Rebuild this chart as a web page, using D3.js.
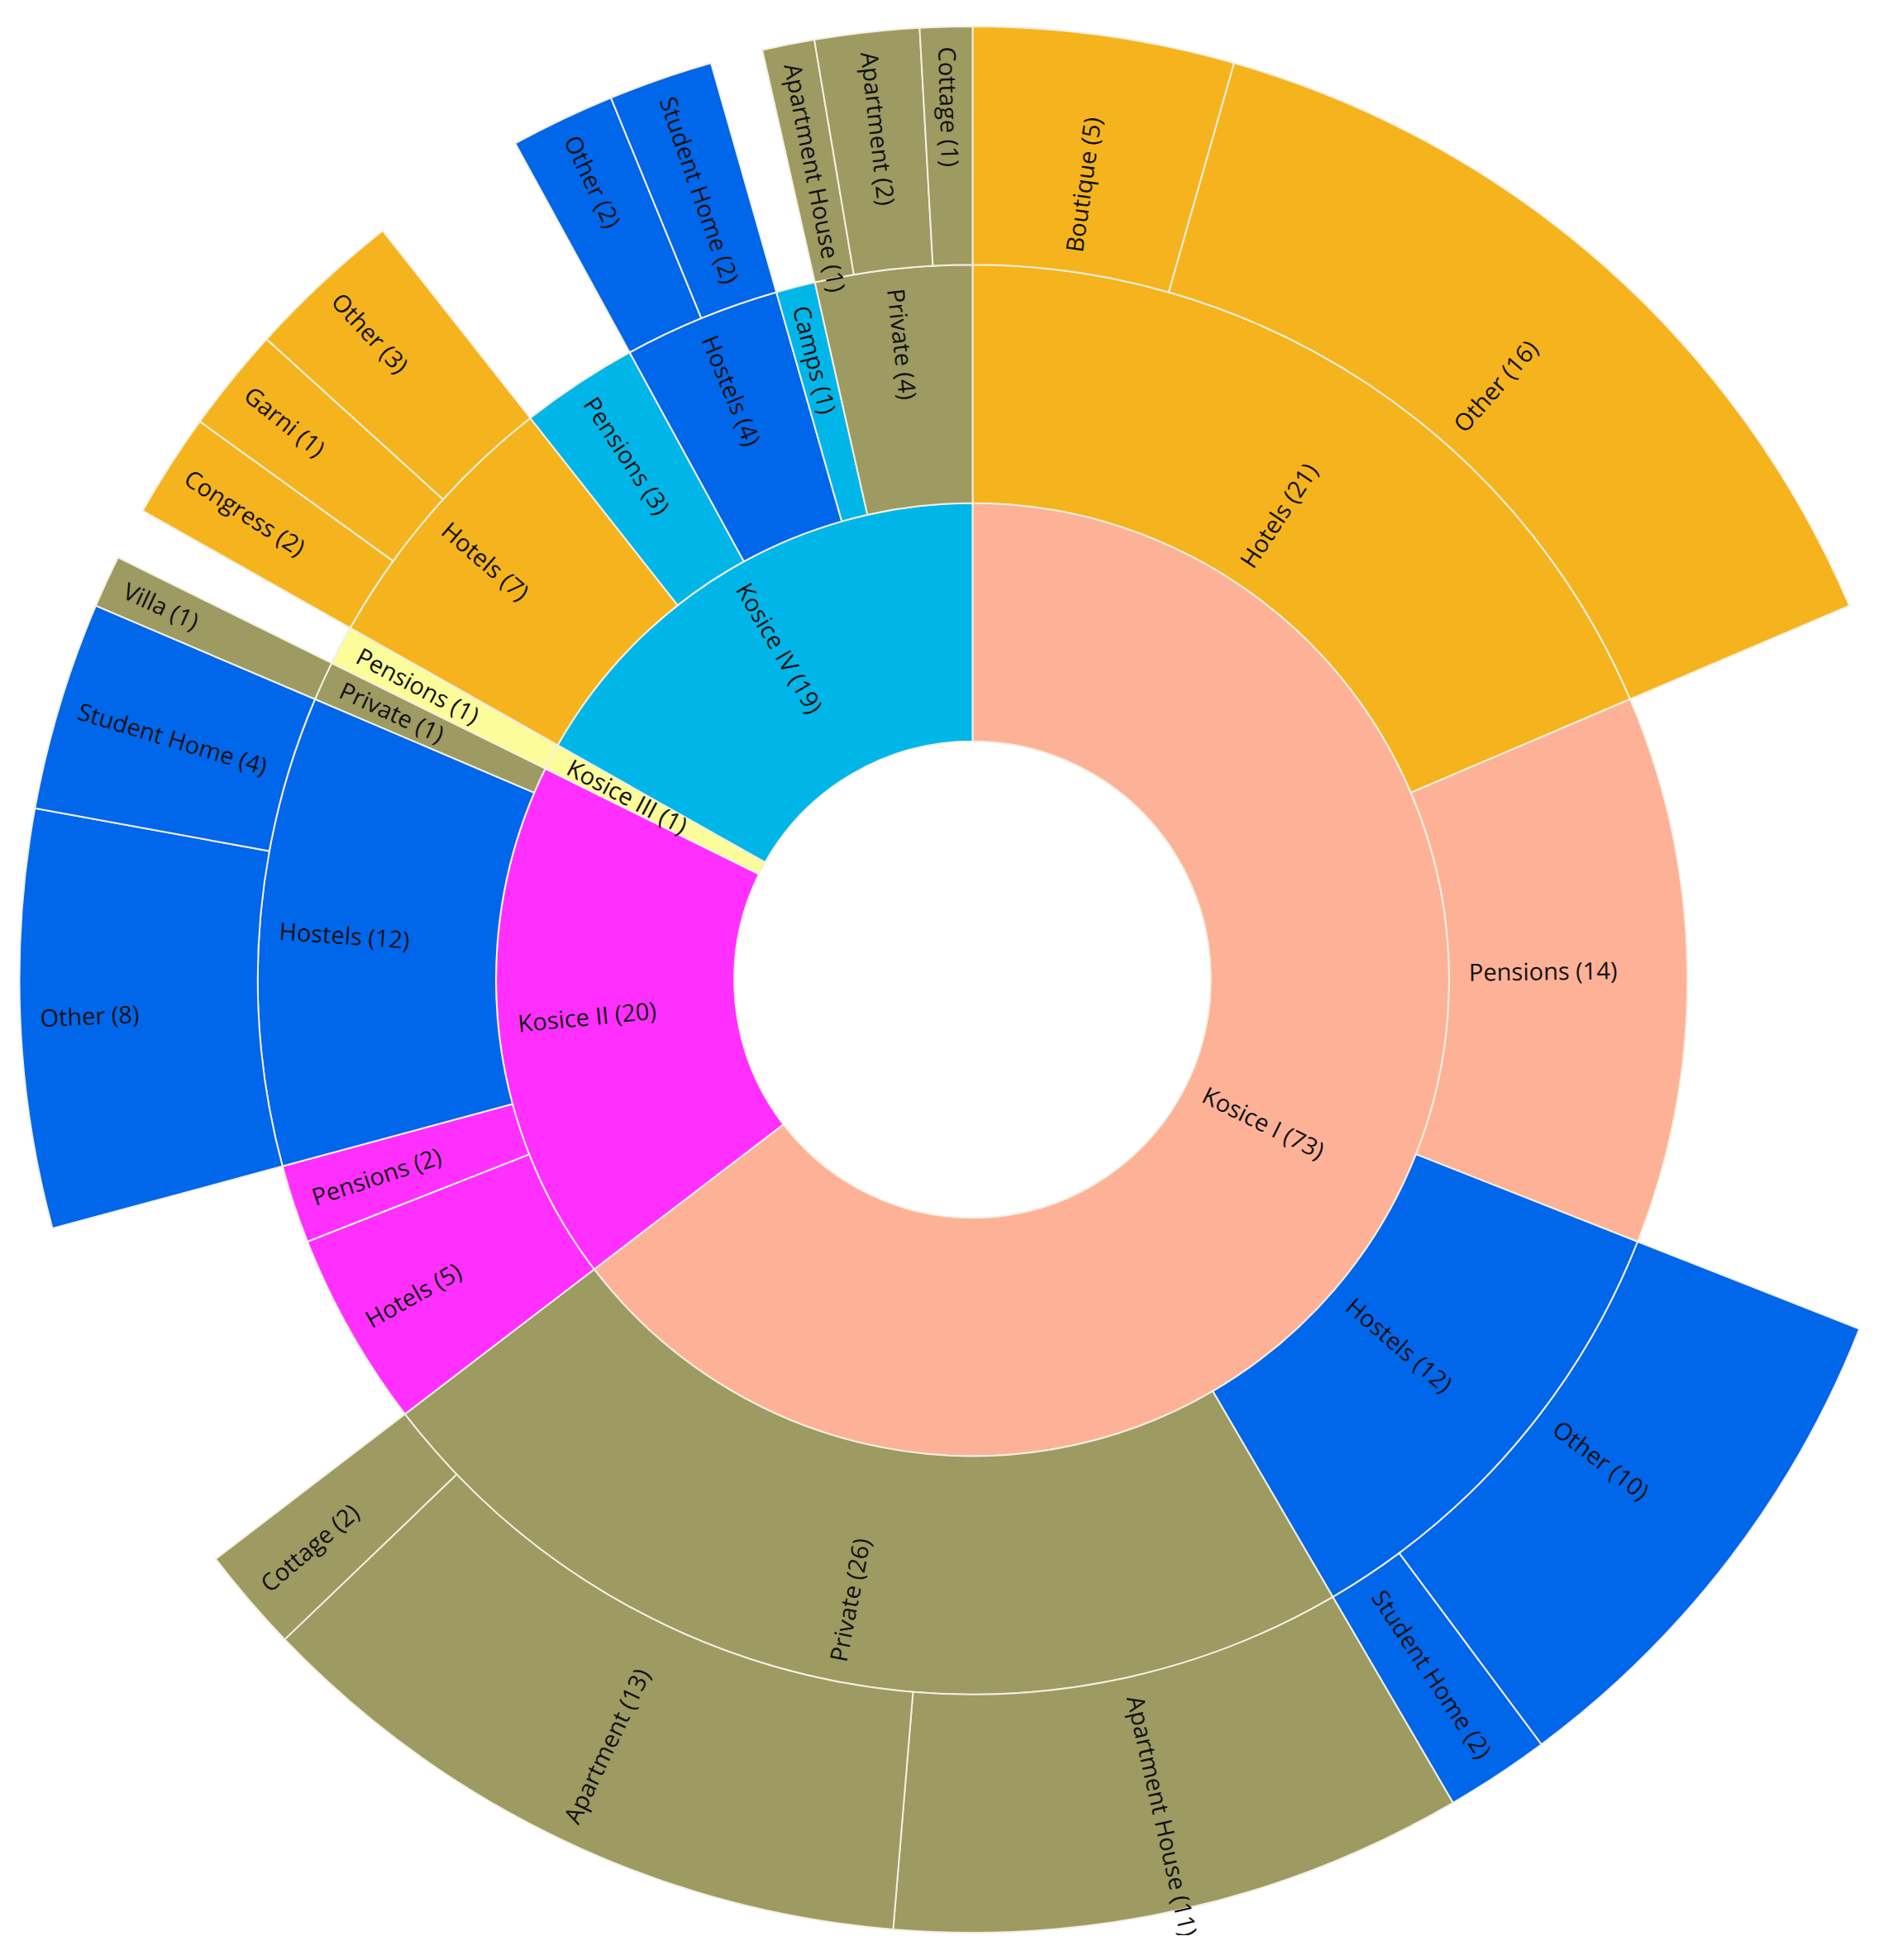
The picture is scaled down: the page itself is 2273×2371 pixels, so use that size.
<!DOCTYPE html>
<html lang="en">
<head>
  <meta charset="UTF-8">
  <title>Accommodation in Kosice - sunburst</title>
  <script src="https://d3js.org/d3.v7.min.js"></script>
  <style>
    body {
      margin: 0;
      padding: 0;
      background: #fff;
      overflow: hidden;
    }
    .label {
      font: 29px "Open Sans", sans-serif;
      fill: #111;
    }
    .arc {
      stroke: #f3efe0;
      stroke-width: 2;
    }
  </style>
</head>
<body>
  <script>
    // one row per outer segment; subtype null = segment ends at the second ring
    const district = [
      "Kosice I (73)", "Kosice I (73)", "Kosice I (73)", "Kosice I (73)", "Kosice I (73)",
      "Kosice I (73)", "Kosice I (73)", "Kosice I (73)",
      "Kosice II (20)", "Kosice II (20)", "Kosice II (20)", "Kosice II (20)", "Kosice II (20)",
      "Kosice III (1)",
      "Kosice IV (19)", "Kosice IV (19)", "Kosice IV (19)", "Kosice IV (19)", "Kosice IV (19)",
      "Kosice IV (19)", "Kosice IV (19)", "Kosice IV (19)", "Kosice IV (19)", "Kosice IV (19)"
    ];
    const type = [
      "Hotels (21)", "Hotels (21)", "Pensions (14)", "Hostels (12)", "Hostels (12)",
      "Private (26)", "Private (26)", "Private (26)",
      "Hotels (5)", "Pensions (2)", "Hostels (12)", "Hostels (12)", "Private (1)",
      "Pensions (1)",
      "Hotels (7)", "Hotels (7)", "Hotels (7)", "Pensions (3)", "Hostels (4)",
      "Hostels (4)", "Camps (1)", "Private (4)", "Private (4)", "Private (4)"
    ];
    const subtype = [
      "Boutique (5)", "Other (16)", null, "Other (10)", "Student Home (2)",
      "Apartment House (11)", "Apartment (13)", "Cottage (2)",
      null, null, "Other (8)", "Student Home (4)", "Villa (1)",
      null,
      "Congress (2)", "Garni (1)", "Other (3)", null, "Other (2)",
      "Student Home (2)", null, "Apartment House (1)", "Apartment (2)", "Cottage (1)"
    ];
    // segment sizes as drawn in the picture
    const count = [
      5, 16, 14, 10, 2,
      11, 13, 2,
      5, 2, 8, 4, 1,
      1,
      2, 2, 3, 3, 2,
      2, 1, 1, 2, 1
    ];

    const districtColours = {
      "Kosice I": "#fdb298",
      "Kosice II": "#ff30ff",
      "Kosice III": "#fcfc9b",
      "Kosice IV": "#00b6e8"
    };
    const typeColours = {
      "Hotels": "#f5b31d",
      "Hostels": "#0066ea",
      "Private": "#9d9a62"
    };
    const useDistrictColour = ["Kosice II/Hotels"];

    const width = 2273, height = 2341;
    const cx = 1176.5, cy = 1185, radius = 1153;
    const pad = 24;

    // build the tree
    const tree = { name: "root", children: [] };
    district.forEach((dn, i) => {
      let dNode = tree.children.find(c => c.name === dn);
      if (!dNode) { dNode = { name: dn, children: [] }; tree.children.push(dNode); }
      let tNode = dNode.children.find(c => c.name === type[i]);
      if (!tNode) { tNode = { name: type[i], children: [] }; dNode.children.push(tNode); }
      if (subtype[i] === null) {
        delete tNode.children;
        tNode.value = count[i];
      } else {
        tNode.children.push({ name: subtype[i], value: count[i] });
      }
    });

    const root = d3.partition()
      .size([2 * Math.PI, radius])(
        d3.hierarchy(tree).sum(d => d.children ? 0 : d.value)
      );

    const key = name => name.replace(/ \(.*\)$/, "");

    function colourOf(d) {
      const dist = d.ancestors().find(a => a.depth === 1);
      const dKey = key(dist.data.name);
      if (d.depth === 1) return districtColours[dKey];
      const tKey = key(d.ancestors().find(a => a.depth === 2).data.name);
      if (typeColours[tKey] && !useDistrictColour.includes(dKey + "/" + tKey)) return typeColours[tKey];
      return districtColours[dKey];
    }

    const arc = d3.arc()
      .startAngle(d => d.x0)
      .endAngle(d => d.x1)
      .innerRadius(d => d.y0)
      .outerRadius(d => d.y1);

    const svg = d3.select("body").append("svg")
      .attr("width", width)
      .attr("height", height)
      .style("display", "block");

    const g = svg.append("g")
      .attr("transform", `translate(${cx},${cy})`);

    const nodes = root.descendants().filter(d => d.depth > 0);

    g.append("g")
      .selectAll("path")
      .data(nodes)
      .join("path")
      .attr("class", "arc")
      .attr("d", arc)
      .attr("fill", colourOf);

    g.append("g")
      .selectAll("text")
      .data(nodes)
      .join("text")
      .attr("class", "label")
      .attr("transform", d => {
        const x = (d.x0 + d.x1) / 2 * 180 / Math.PI;
        const flip = x >= 180;
        return `rotate(${x - 90}) translate(${flip ? d.y1 - pad : d.y0 + pad},0) rotate(${flip ? 180 : 0})`;
      })
      .attr("dy", "0.35em")
      .attr("text-anchor", "start")
      .text(d => d.data.name);
  </script>
</body>
</html>
